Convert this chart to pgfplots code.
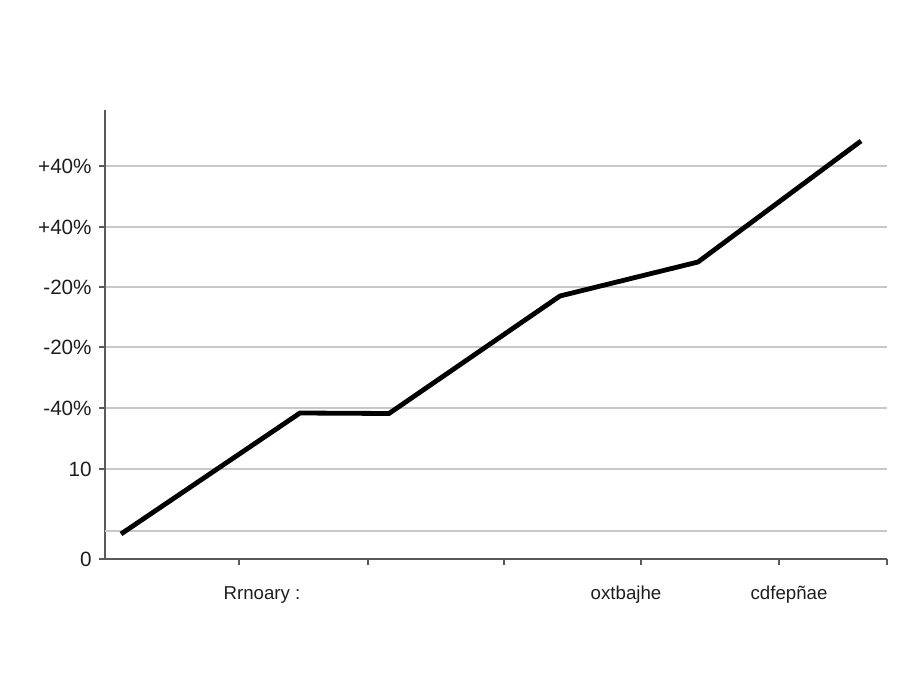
\documentclass[border=0pt]{standalone}
\usepackage{fontspec}
\setmainfont{Liberation Sans}
\usepackage{pgfplots}
\pgfplotsset{compat=1.18}
\definecolor{gridc}{RGB}{200,200,200}
\definecolor{axc}{RGB}{90,90,90}
\definecolor{txt}{RGB}{30,30,30}
\begin{document}
\begin{tikzpicture}[x=0.75pt,y=0.75pt]
\path[use as bounding box] (0,0) rectangle (920,690);
\begin{axis}[
  at={(105,131)}, anchor=origin,
  scale only axis,
  width=586.5pt, height=336.75pt,
  xmin=105, xmax=887, ymin=0, ymax=449,
  axis lines=left,
  axis line style={-, draw=axc, line width=0.9pt},
  tick style={draw=axc, line width=0.9pt},
  tick align=outside,
  major tick length=4.5pt,
  xtick={239,368,504,641,779,887},
  xticklabels={},
  ytick={0,90,151,212,272,332,393},
  yticklabels={0,10,-40\%,-20\%,-20\%,+40\%,+40\%},
  extra y ticks={28},
  extra y tick labels={},
  extra y tick style={major tick length=0pt},
  extra x ticks={262,626,789},
  extra x tick labels={Rrnoary :,oxtbajhe,cdfepñae},
  extra x tick style={major tick length=0pt, xticklabel style={yshift=-17pt}},
  ymajorgrids,
  grid style={draw=gridc, line width=1pt},
  tick label style={font=\fontsize{14}{16}\selectfont, text=txt},
  yticklabel style={font=\fontsize{15.5}{18}\selectfont, xshift=-2pt},
  clip=false,
]
\addplot[black, line width=3.6pt, line join=miter] coordinates {
  (121,25) (300,146) (389,145.5) (560,263) (698,297) (861,418)
};
\end{axis}
\end{tikzpicture}
\end{document}
